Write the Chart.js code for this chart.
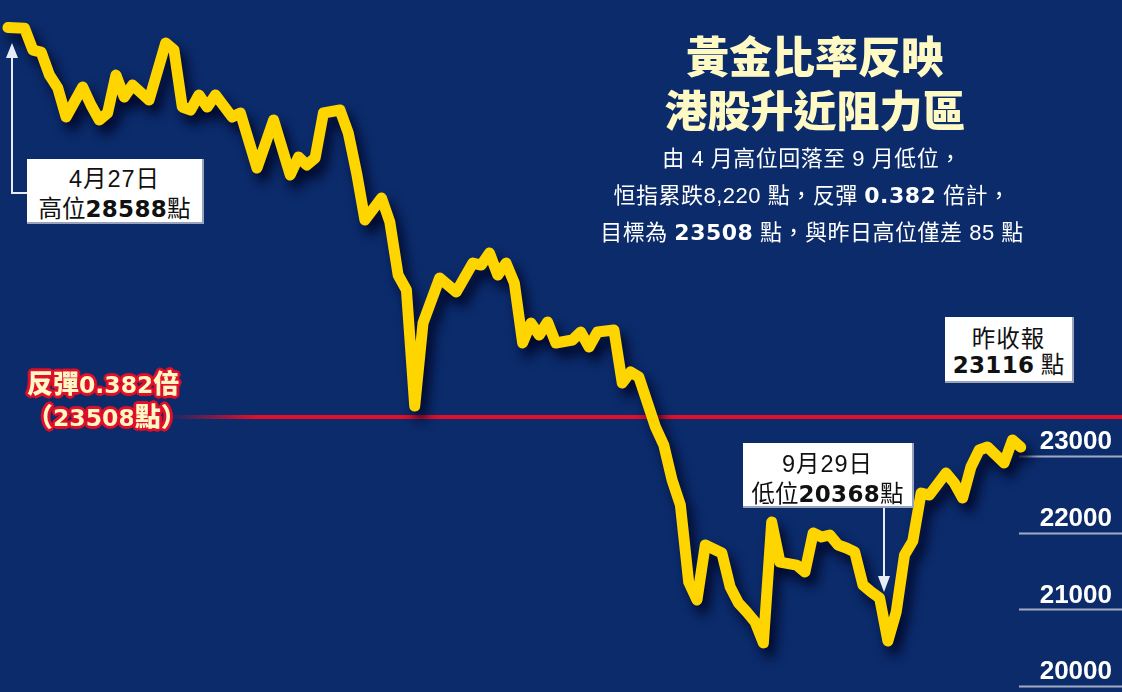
<!DOCTYPE html>
<html>
<head>
<meta charset="utf-8">
<script src="https://cdn.jsdelivr.net/npm/chart.js@4.4.1/dist/chart.umd.min.js"></script>
<style>
  html,body{margin:0;padding:0;background:#0b2b6b;}
  #wrap{position:relative;width:1122px;height:692px;overflow:hidden;background:#0b2b6b;
        font-family:"Liberation Sans","Noto Sans CJK TC",sans-serif;}
  #c{position:absolute;left:0;top:0;}
  .abs{position:absolute;}
  .cjk{font-family:"Noto Sans CJK TC","Noto Sans CJK SC",sans-serif;}
  .bnum{font-family:"DejaVu Sans",sans-serif;font-weight:bold;}
  .title{left:565px;width:500px;top:27px;text-align:center;color:#fffac4;
         font-family:"Noto Sans CJK TC",sans-serif;font-weight:900;font-size:43px;line-height:54px;}
  .sub{left:562px;width:500px;top:139px;text-align:center;color:#ffffff;
       font-size:22px;line-height:35px;letter-spacing:0.5px;}
  .box{background:#ffffff;color:#111;text-align:center;border-right:2px solid #9aa3bd;border-bottom:2px solid #9aa3bd;box-sizing:border-box;white-space:nowrap;}
  .box .l1{font-size:23.5px;letter-spacing:1px;}
  .box .l2{font-size:23.5px;}
  .box .bnum{font-size:23px;letter-spacing:0.3px;}
  .redlab{left:27px;top:367px;color:#fff7c4;font-weight:bold;font-size:26px;line-height:29px;white-space:nowrap;
     text-shadow: 2px 0 0 #e0102a,-2px 0 0 #e0102a,0 2px 0 #e0102a,0 -2px 0 #e0102a,
                  2px 2px 0 #e0102a,-2px -2px 0 #e0102a,2px -2px 0 #e0102a,-2px 2px 0 #e0102a,
                  3px 0 1px #e0102a,-3px 0 1px #e0102a,0 3px 1px #e0102a,0 -3px 1px #e0102a;}
</style>
</head>
<body>
<div id="wrap">
  <canvas id="c" width="1122" height="692"></canvas>

  <svg class="abs" style="left:0;top:0" width="1122" height="692">
    <polyline points="27,193 12,193 12,57" fill="none" stroke="#e8ecf4" stroke-width="2"/>
    <polygon points="12,43 6,58 18,58" fill="#e8ecf4"/>
    <line x1="884" y1="507" x2="884" y2="578" stroke="#e8ecf4" stroke-width="2"/>
    <polygon points="884,592 878,576 890,576" fill="#e8ecf4"/>
  </svg>

  <div class="abs title">黃金比率反映<br>港股升近阻力區</div>

  <div class="abs sub">
    <div><span class="cjk">由</span> 4 <span class="cjk">月高位回落至</span> 9 <span class="cjk">月低位，</span></div>
    <div><span class="cjk">恒指累跌</span>8,220 <span class="cjk">點，反彈</span> <span class="bnum">0.382</span> <span class="cjk">倍計，</span></div>
    <div><span class="cjk">目標為</span> <span class="bnum">23508</span> <span class="cjk">點，與昨日高位僅差</span> 85 <span class="cjk">點</span></div>
  </div>

  <div class="abs box" style="left:27px;top:159px;width:177px;height:65px;padding-top:4px;line-height:28px;">
    <div class="l1">4<span class="cjk">月</span>27<span class="cjk">日</span></div>
    <div class="l2"><span class="cjk">高位</span><span class="bnum">28588</span><span class="cjk">點</span></div>
  </div>

  <div class="abs box" style="left:945px;top:317px;width:129px;height:66px;padding-top:7px;line-height:26px;">
    <div class="cjk l1">昨收報</div>
    <div class="l2"><span class="bnum">23116</span> <span class="cjk">點</span></div>
  </div>

  <div class="abs box" style="left:743px;top:443px;width:171px;height:65px;padding-top:5px;line-height:28px;">
    <div class="l1">9<span class="cjk">月</span>29<span class="cjk">日</span></div>
    <div class="l2"><span class="cjk">低位</span><span class="bnum">20368</span><span class="cjk">點</span></div>
  </div>

  <div class="abs redlab">
    <div><span class="cjk" style="font-weight:900">反彈</span><span class="bnum" style="font-size:23.5px">0.382</span><span class="cjk" style="font-weight:900">倍</span></div>
    <div><span class="cjk" style="font-weight:900">（</span><span class="bnum" style="font-size:23.5px">23508</span><span class="cjk" style="font-weight:900">點）</span></div>
  </div>
</div>

<script>
// ---- data ----
// trading-day index counted from 27 Apr (day 0) to the latest close
const dayIndex = [0,2,3,4,5,6,7,9,10,11,12,13,14,15,17,19,20,21,22,23,24,25,27,28,30,32,34,35,36,37,38,40,41,42,43,45,46,47,48,49,50,52,54,56,57,58,59,60,61,62,63,64,65,66,68,69,70,71,73,74,75,76,78,79,80,81,82,83,84,86,87,88,89,90,91,92,93,95,96,97,98,99,100,101,102,103,104,105,106,107,108,109,110,111,113,114,115,116,117,118,119,120,121,122];
const hsiValues = [28588,28580,28295,28269,27969,27800,27422,27813,27578,27383,27474,27969,27682,27839,27643,28387,28295,27552,27513,27709,27552,27709,27422,27474,26756,27383,26665,26900,26796,26887,27474,27513,27213,26691,26078,26365,26052,25361,25165,23652,24735,25322,25139,25517,25491,25648,25361,25517,25256,24474,24735,24578,24748,24474,24513,24617,24422,24617,24643,23952,24096,24030,23378,23143,22687,22361,21357,21122,21839,21735,21291,21083,20965,20835,20561,22139,21617,21578,21487,21996,21944,21970,21839,21800,21748,21317,21226,21148,20587,20965,21709,21891,22517,22491,22778,22648,22452,22857,23078,23117,23013,22909,23209,23116];
const targetLevel = 23508;           // 0.382 rebound target
const yTickValues = [20000, 21000, 22000, 23000];

const X_MIN = -0.96, X_MAX = 134.2;
const Y_MIN = 19922, Y_MAX = 28948;

const lineShadow = {
  id: 'lineShadow',
  beforeDatasetDraw(chart, args) {
    if (args.index !== 0) return;
    const c = chart.ctx;
    c.save();
    c.shadowColor = 'rgba(0,6,38,0.95)';
    c.shadowBlur = 12;
    c.shadowOffsetX = 6;
    c.shadowOffsetY = 9;
  },
  afterDatasetDraw(chart, args) {
    if (args.index !== 0) return;
    chart.ctx.restore();
  }
};

const shortGrid = {
  id: 'shortGrid',
  beforeDatasetsDraw(chart) {
    const y = chart.scales.y;
    const c = chart.ctx;
    c.save();
    c.strokeStyle = '#a3abc4';
    c.lineWidth = 2;
    y.ticks.forEach((t, i) => {
      const py = Math.round(y.getPixelForTick(i)) + 0.5;
      c.beginPath();
      c.moveTo(1019, py);
      c.lineTo(chart.width, py);
      c.stroke();
    });
    c.restore();
  }
};

new Chart(document.getElementById('c'), {
  type: 'line',
  data: {
    datasets: [
      {
        label: '恒指',
        data: dayIndex.map((d, i) => ({x: d, y: hsiValues[i]})),
        borderColor: '#ffd500',
        borderWidth: 11,
        borderJoinStyle: 'round',
        borderCapStyle: 'round',
        pointRadius: 0,
        tension: 0,
        fill: false,
        order: 0
      },
      {
        label: '反彈0.382倍',
        data: [{x: X_MIN, y: targetLevel}, {x: X_MAX, y: targetLevel}],
        borderColor: (ctx) => {
          const ch = ctx.chart;
          const g = ch.ctx.createLinearGradient(165, 0, 255, 0);
          g.addColorStop(0, 'rgba(226,14,42,0)');
          g.addColorStop(1, 'rgba(226,14,42,1)');
          return g;
        },
        borderWidth: 4,
        pointRadius: 0,
        fill: false,
        order: 1
      }
    ]
  },
  options: {
    responsive: false,
    animation: false,
    layout: {padding: 0},
    plugins: {legend: {display: false}, tooltip: {enabled: false}},
    scales: {
      x: {type: 'linear', min: X_MIN, max: X_MAX, display: false},
      y: {
        position: 'right',
        min: Y_MIN, max: Y_MAX,
        grid: {display: false, drawTicks: false},
        border: {display: false},
        afterBuildTicks: (s) => { s.ticks = yTickValues.map(v => ({value: v})); },
        afterFit: (s) => { s.width = 0; s.paddingTop = 0; s.paddingBottom = 0; s.paddingLeft = 0; s.paddingRight = 0; },
        ticks: {
          mirror: true,
          padding: -10,
          labelOffset: -14,
          color: '#ffffff',
          font: {family: '"Liberation Sans", Arial, sans-serif', weight: 'bold', size: 26},
          callback: (v) => String(v)
        }
      }
    }
  },
  plugins: [lineShadow, shortGrid]
});
</script>
</body>
</html>
